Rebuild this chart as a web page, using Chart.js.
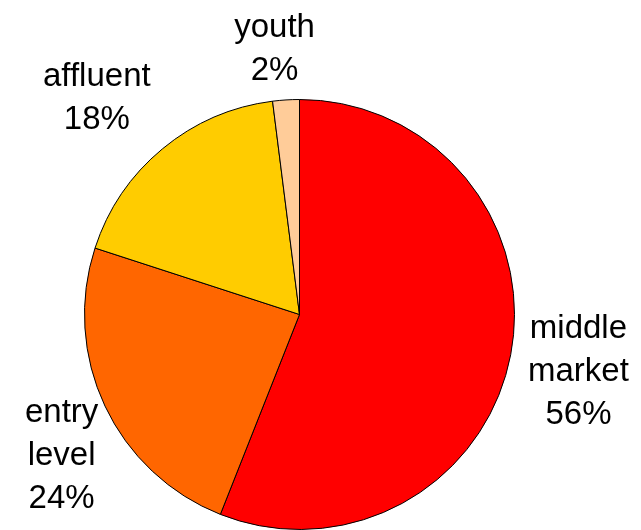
<!DOCTYPE html>
<html>
<head>
<meta charset="utf-8">
<script src="https://cdn.jsdelivr.net/npm/chart.js@4/dist/chart.umd.min.js"></script>
<style>
  html, body { margin: 0; padding: 0; background: #fff; }
  #wrap { width: 641px; height: 530px; }
</style>
</head>
<body>
<div id="wrap"><canvas id="segmentChart" width="641" height="530"></canvas></div>
<script>
// Customer segments, clockwise from 12 o'clock
const segments = [['middle', 'market'], ['entry', 'level'], ['affluent'], ['youth']];
const shares = [56, 24, 18, 2];
const segmentColors = ['#FF0000', '#FF6600', '#FFCC00', '#FFCC99'];

// label placement: distance from centre along the slice mid-angle, plus a small nudge
const LABEL_RADIUS = 285;
const labelNudge = [
    { dx: -1, dy: 4 },
    { dx: 20, dy: 20 },
    { dx: -21, dy: 4 },
    { dx: -7, dy: 19 }
];

const FONT = "33px 'Liberation Sans', Arial, sans-serif";
const LINE_H = 43;

const outsideLabels = {
    id: 'outsideLabels',
    afterDatasetsDraw(chart) {
        const ctx = chart.ctx;
        const meta = chart.getDatasetMeta(0);
        ctx.save();
        ctx.font = FONT;
        ctx.fillStyle = '#000';
        ctx.textAlign = 'center';
        ctx.textBaseline = 'middle';
        meta.data.forEach(function(arc, i) {
            const mid = (arc.startAngle + arc.endAngle) / 2;
            const cx = arc.x + Math.cos(mid) * LABEL_RADIUS + labelNudge[i].dx;
            const cy = arc.y + Math.sin(mid) * LABEL_RADIUS + labelNudge[i].dy;
            const lines = segments[i].concat([shares[i] + '%']);
            const top = cy - (lines.length - 1) * LINE_H / 2;
            lines.forEach(function(txt, k) {
                ctx.fillText(txt, cx, top + k * LINE_H);
            });
        });
        ctx.restore();
    }
};

new Chart(document.getElementById('segmentChart'), {
    type: 'pie',
    data: {
        labels: segments.map(s => s.join(' ')),
        datasets: [{
            data: shares,
            backgroundColor: segmentColors,
            borderColor: '#000',
            borderWidth: 1,
            borderAlign: 'center'
        }]
    },
    options: {
        responsive: false,
        animation: false,
        layout: { padding: { left: 84, right: 126, top: 99, bottom: 0 } },
        plugins: {
            legend: { display: false },
            tooltip: { enabled: false }
        }
    },
    plugins: [outsideLabels]
});
</script>
</body>
</html>
